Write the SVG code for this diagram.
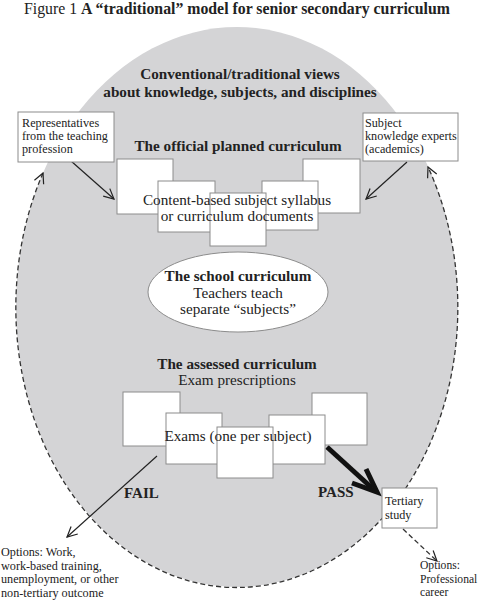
<svg xmlns="http://www.w3.org/2000/svg" width="480" height="600" viewBox="0 0 480 600">
<defs>
<style>
text{font-family:"Liberation Serif","Times New Roman",serif;fill:#222}
.b{font-weight:bold}
.h{font-size:15.2px;font-weight:bold;text-anchor:middle}
.m{font-size:15.2px;text-anchor:middle}
.s{font-size:12.2px}
.box{fill:#fff;stroke:#8c8c8c;stroke-width:1}
.ln{fill:none;stroke:#222;stroke-width:1.2}
.dash{fill:none;stroke:#333;stroke-width:1.3;stroke-dasharray:5,3}
</style>
<marker id="ah" viewBox="0 0 12 12" refX="11" refY="6" markerWidth="12" markerHeight="12" markerUnits="userSpaceOnUse" orient="auto-start-reverse">
<path d="M1,1 L11,6 L1,11" fill="none" stroke="#222" stroke-width="1.2"/>
</marker>
</defs>
<rect width="480" height="600" fill="#fff"/>
<text x="237" y="14" style="font-size:15.8px;text-anchor:middle">Figure 1 <tspan class="b">A “traditional” model for senior secondary curriculum</tspan></text>

<g id="outer">
<ellipse cx="237" cy="307" rx="221" ry="280" fill="#d4d4d6"/>
<text class="h" x="240" y="79">Conventional/traditional views</text>
<text class="h" x="240" y="97">about knowledge, subjects, and disciplines</text>
</g>

<g id="connectors">
<path class="dash" d="M43,173 A221,280 0 1 0 428,167" marker-start="url(#ah)" marker-end="url(#ah)"/>
<line class="ln" x1="71" y1="161" x2="114" y2="199" marker-end="url(#ah)"/>
<line class="ln" x1="407" y1="162" x2="366" y2="199" marker-end="url(#ah)"/>
<line class="ln" x1="157" y1="456" x2="67" y2="537" marker-end="url(#ah)"/>
<line x1="327" y1="447" x2="372" y2="488" stroke="#111" stroke-width="5"/>
<path d="M352,483 L377,492 L366,469" fill="none" stroke="#111" stroke-width="5" stroke-linejoin="miter"/>
<line class="dash" x1="403" y1="529" x2="437" y2="561" marker-end="url(#ah)"/>
<text class="b" x="124" y="498" style="font-size:15px">FAIL</text>
<text class="b" x="318" y="497" style="font-size:15px">PASS</text>
</g>

<g id="teachers">
<rect class="box" x="18" y="112" width="96" height="50"/>
<text class="s" x="22" y="127">Representatives</text>
<text class="s" x="22" y="140">from the teaching</text>
<text class="s" x="22" y="153">profession</text>
</g>

<g id="experts">
<rect class="box" x="363" y="113" width="95" height="48"/>
<text class="s" x="365" y="127">Subject</text>
<text class="s" x="365" y="140">knowledge experts</text>
<text class="s" x="365" y="153">(academics)</text>
</g>

<g id="official">
<text class="h" x="238" y="151">The official planned curriculum</text>
<rect class="box" x="117" y="159" width="56" height="55"/>
<rect class="box" x="303" y="159" width="57" height="54"/>
<rect class="box" x="158" y="181" width="57" height="51"/>
<rect class="box" x="262" y="181" width="56" height="49"/>
<rect class="box" x="210" y="193" width="56" height="53"/>
<text class="m" x="237" y="205">Content-based subject syllabus</text>
<text class="m" x="237" y="221">or curriculum documents</text>
</g>

<g id="school">
<ellipse cx="238" cy="292" rx="90" ry="40" fill="#fff" stroke="#8c8c8c" stroke-width="1"/>
<text class="h" x="238" y="281">The school curriculum</text>
<text class="m" x="238" y="298">Teachers teach</text>
<text class="m" x="238" y="314">separate “subjects”</text>
</g>

<g id="assessed">
<text class="h" x="237" y="369">The assessed curriculum</text>
<text class="m" x="237" y="385">Exam prescriptions</text>
<rect class="box" x="123" y="392" width="57" height="54"/>
<rect class="box" x="312" y="393" width="55" height="52"/>
<rect class="box" x="166" y="413" width="56" height="51"/>
<rect class="box" x="269" y="415" width="56" height="49"/>
<rect class="box" x="217" y="427" width="56" height="51"/>
<text class="m" x="238" y="441">Exams (one per subject)</text>
</g>

<g id="fail-options">
<text class="s" x="1" y="556">Options: Work,</text>
<text class="s" x="1" y="570">work-based training,</text>
<text class="s" x="1" y="583">unemployment, or other</text>
<text class="s" x="1" y="597">non-tertiary outcome</text>
</g>

<g id="tertiary">
<rect class="box" x="382" y="488" width="55" height="40"/>
<text class="s" x="385" y="505">Tertiary</text>
<text class="s" x="385" y="519">study</text>
</g>

<g id="career">
<text x="420" y="569" style="font-size:11.6px">Options:</text>
<text x="420" y="582.5" style="font-size:11.6px">Professional</text>
<text x="420" y="596" style="font-size:11.6px">career</text>
</g>
</svg>
